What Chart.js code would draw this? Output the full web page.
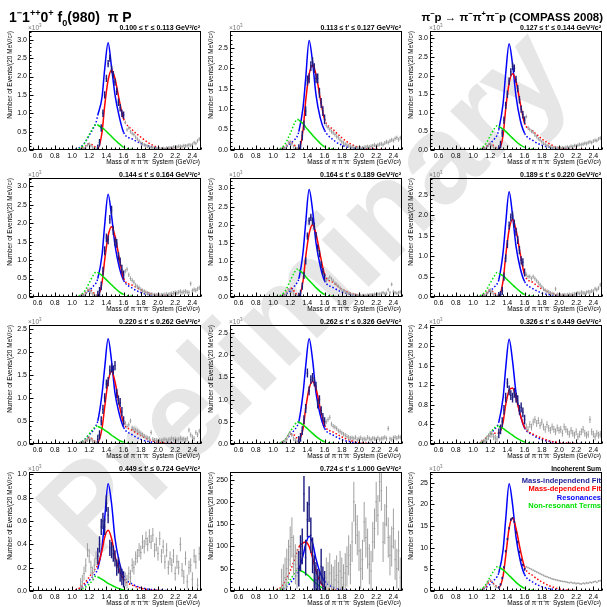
<!DOCTYPE html>
<html>
<head>
<meta charset="utf-8">
<script src="https://cdn.jsdelivr.net/npm/chart.js@4"></script>
<style>
  body { margin: 0; width: 607px; height: 607px; background: #fff; position: relative; overflow: hidden;
         font-family: "Liberation Sans", Arial, Helvetica, sans-serif; }
  .mark { position: absolute; left: 302px; top: 292px; transform: translate(-50%, -50%) rotate(-45deg);
          font-size: 126px; font-weight: bold; color: #e6e6e6; white-space: nowrap; z-index: 0; }
  canvas { position: absolute; z-index: 1; }
  .title { position: absolute; font-weight: bold; white-space: nowrap; z-index: 2; line-height: 16px; }
  .title sup, .title sub { font-size: 65%; line-height: 0; }
</style>
</head>
<body>
<div class="mark">Preliminary</div>
<div class="title" style="left:9px;top:9px;font-size:14px">1<sup>&minus;</sup>1<sup>++</sup>0<sup>+</sup> f<sub>0</sub>(980) &nbsp;&pi; P</div>
<div class="title" style="right:4px;top:9px;font-size:11.5px">&pi;<sup>&minus;</sup>p &rarr; &pi;<sup>&minus;</sup>&pi;<sup>+</sup>&pi;<sup>&minus;</sup>p (COMPASS 2008)</div>
<script>
const CURVE_MASS = [1.0, 1.1, 1.15, 1.2, 1.25, 1.28, 1.3, 1.35, 1.38, 1.42, 1.46, 1.5, 1.55, 1.6, 1.7, 1.8, 1.9, 2.0, 2.2, 2.5];
// 20 MeV bin centres of the mass-independent points
const LOW_MASS = [1.10, 1.12, 1.14, 1.16, 1.18, 1.20, 1.22, 1.24, 1.26, 1.28];
const FIT_MASS = [1.30, 1.32, 1.34, 1.36, 1.38, 1.40, 1.42, 1.44, 1.46, 1.48, 1.50, 1.52, 1.54, 1.56, 1.58, 1.60];
const HIGH_MASS = [1.62, 1.64, 1.66, 1.68, 1.70, 1.72, 1.74, 1.76, 1.78, 1.80,
  1.82, 1.84, 1.86, 1.88, 1.90, 1.92, 1.94, 1.96, 1.98, 2.00,
  2.02, 2.04, 2.06, 2.08, 2.10, 2.12, 2.14, 2.16, 2.18, 2.20,
  2.22, 2.24, 2.26, 2.28, 2.30, 2.32, 2.34, 2.36, 2.38, 2.40,
  2.42, 2.44, 2.46, 2.48];
const X_TICKS = [0.6, 0.8, 1.0, 1.2, 1.4, 1.6, 1.8, 2.0, 2.2, 2.4];

const T_LABELS = [
  "0.100 \u2264 t' \u2264 0.113 GeV\u00b2/c\u00b2", "0.113 \u2264 t' \u2264 0.127 GeV\u00b2/c\u00b2", "0.127 \u2264 t' \u2264 0.144 GeV\u00b2/c\u00b2",
  "0.144 \u2264 t' \u2264 0.164 GeV\u00b2/c\u00b2", "0.164 \u2264 t' \u2264 0.189 GeV\u00b2/c\u00b2", "0.189 \u2264 t' \u2264 0.220 GeV\u00b2/c\u00b2",
  "0.220 \u2264 t' \u2264 0.262 GeV\u00b2/c\u00b2", "0.262 \u2264 t' \u2264 0.326 GeV\u00b2/c\u00b2", "0.326 \u2264 t' \u2264 0.449 GeV\u00b2/c\u00b2",
  "0.449 \u2264 t' \u2264 0.724 GeV\u00b2/c\u00b2", "0.724 \u2264 t' \u2264 1.000 GeV\u00b2/c\u00b2", "Incoherent Sum"
];
const Y_MAX = [3.24, 2.91, 3.2, 3.22, 3.29, 2.92, 2.58, 2.68, 2.44, 1.02, 267, 27.5];
const Y_STEP = [0.5, 0.5, 0.5, 0.5, 0.5, 0.5, 0.5, 0.5, 0.2, 0.2, 50, 5];
const Y_DIGITS = [1, 1, 1, 1, 1, 1, 1, 1, 1, 1, 0, 0];
const TIMES_1E3 = [true, true, true, true, true, true, true, true, true, true, false, true];
const ERR_FIT = [0.1, 0.12, 0.1, 0.12, 0.1, 0.1, 0.1, 0.1, 0.1, 0.07, 40, 0.3];
const ERR_OUT = [0.05, 0.05, 0.05, 0.06, 0.05, 0.05, 0.05, 0.05, 0.07, 0.06, 45, 0.2];

// Resonances (blue)
const RESONANCES = [
  [0, 0.08, 0.2, 0.4, 0.6, 0.75, 0.95, 1.45, 2.2, 2.92, 2.25, 1.5, 0.9, 0.48, 0.3, 0.18, 0.1, 0.05, 0.01, 0],
  [0, 0.03, 0.08, 0.15, 0.25, 0.33, 0.45, 1.05, 1.75, 2.68, 2.15, 1.35, 0.78, 0.48, 0.25, 0.12, 0.06, 0.03, 0.01, 0],
  [0, 0.03, 0.08, 0.17, 0.3, 0.4, 0.55, 1.25, 2.05, 2.86, 2.3, 1.45, 0.8, 0.45, 0.25, 0.13, 0.07, 0.03, 0.01, 0],
  [0, 0.03, 0.08, 0.17, 0.3, 0.38, 0.5, 1.15, 1.95, 2.78, 2.2, 1.4, 0.8, 0.45, 0.24, 0.12, 0.06, 0.03, 0.01, 0],
  [0, 0.03, 0.08, 0.17, 0.3, 0.4, 0.5, 1.25, 2.05, 2.97, 2.4, 1.5, 0.85, 0.45, 0.26, 0.14, 0.07, 0.03, 0.01, 0],
  [0, 0.02, 0.07, 0.15, 0.25, 0.32, 0.42, 1.1, 1.8, 2.58, 2.0, 1.25, 0.7, 0.38, 0.2, 0.1, 0.05, 0.02, 0.01, 0],
  [0, 0.03, 0.1, 0.2, 0.3, 0.4, 0.5, 1.1, 1.65, 2.28, 1.8, 1.1, 0.65, 0.36, 0.2, 0.1, 0.05, 0.02, 0.01, 0],
  [0, 0.03, 0.1, 0.2, 0.32, 0.4, 0.5, 1.15, 1.75, 2.37, 1.9, 1.15, 0.65, 0.35, 0.2, 0.1, 0.05, 0.02, 0.01, 0],
  [0, 0.03, 0.1, 0.2, 0.3, 0.36, 0.45, 0.95, 1.55, 2.15, 1.7, 1.05, 0.6, 0.33, 0.18, 0.09, 0.05, 0.02, 0.01, 0],
  [0, 0.02, 0.05, 0.09, 0.13, 0.16, 0.19, 0.38, 0.62, 0.92, 0.75, 0.45, 0.25, 0.13, 0.06, 0.03, 0.015, 0.01, 0, 0],
  [0, 3, 8, 18, 30, 40, 48, 80, 105, 123, 108, 72, 40, 22, 8, 3, 1, 0, 0, 0],
  [0, 0.3, 0.8, 1.6, 2.6, 3.3, 4.2, 9.5, 16.5, 24.8, 20, 12.5, 7, 3.8, 2, 1, 0.5, 0.2, 0.05, 0]
];
// Mass-dependent fit (red)
const MASS_DEP_FIT = [
  [0, 0.03, 0.1, 0.17, 0.12, 0.06, 0.05, 0.5, 1.2, 1.9, 2.18, 1.95, 1.35, 0.85, 0.55, 0.35, 0.18, 0.07, 0.02, 0],
  [0, 0.03, 0.1, 0.19, 0.12, 0.04, 0.02, 0.5, 1.2, 1.85, 2.08, 1.85, 1.25, 0.75, 0.5, 0.3, 0.15, 0.06, 0.02, 0],
  [0, 0.03, 0.09, 0.16, 0.1, 0.04, 0.03, 0.4, 1.1, 1.8, 2.05, 1.85, 1.25, 0.72, 0.5, 0.3, 0.15, 0.06, 0.02, 0],
  [0, 0.03, 0.1, 0.2, 0.12, 0.05, 0.05, 0.4, 1.0, 1.65, 1.9, 1.65, 1.05, 0.5, 0.32, 0.2, 0.1, 0.05, 0.01, 0],
  [0, 0.04, 0.12, 0.25, 0.15, 0.05, 0.03, 0.45, 1.1, 1.75, 2.0, 1.75, 1.15, 0.62, 0.4, 0.22, 0.11, 0.05, 0.01, 0],
  [0, 0.03, 0.09, 0.17, 0.1, 0.04, 0.03, 0.4, 1.0, 1.65, 1.9, 1.65, 1.05, 0.55, 0.35, 0.2, 0.1, 0.05, 0.01, 0],
  [0, 0.02, 0.07, 0.14, 0.09, 0.04, 0.04, 0.35, 0.8, 1.35, 1.58, 1.35, 0.85, 0.46, 0.3, 0.18, 0.09, 0.04, 0.01, 0],
  [0, 0.03, 0.1, 0.22, 0.2, 0.13, 0.1, 0.35, 0.8, 1.25, 1.41, 1.25, 0.8, 0.42, 0.27, 0.16, 0.08, 0.03, 0.01, 0],
  [0, 0.04, 0.12, 0.2, 0.22, 0.22, 0.22, 0.45, 0.8, 1.1, 1.15, 0.95, 0.6, 0.34, 0.2, 0.12, 0.06, 0.03, 0.01, 0],
  [0, 0.03, 0.07, 0.12, 0.17, 0.2, 0.22, 0.35, 0.46, 0.52, 0.45, 0.3, 0.18, 0.1, 0.05, 0.025, 0.01, 0.005, 0, 0],
  [0, 10, 25, 45, 70, 88, 98, 108, 110, 100, 75, 45, 20, 8, 3, 1, 0, 0, 0, 0],
  [0, 0.3, 1.0, 2.3, 1.5, 0.9, 0.8, 3.5, 8, 14.5, 16.9, 14.5, 9.5, 5.5, 3.5, 2.1, 1.1, 0.5, 0.1, 0]
];
// Non-resonant terms (green)
const NON_RESONANT = [
  [0, 0.06, 0.2, 0.42, 0.62, 0.7, 0.68, 0.6, 0.55, 0.46, 0.37, 0.27, 0.17, 0.07, 0.02, 0, 0, 0, 0, 0],
  [0, 0.05, 0.18, 0.4, 0.65, 0.75, 0.73, 0.64, 0.56, 0.46, 0.36, 0.27, 0.16, 0.08, 0.02, 0, 0, 0, 0, 0],
  [0, 0.05, 0.17, 0.38, 0.58, 0.65, 0.63, 0.56, 0.5, 0.41, 0.32, 0.23, 0.14, 0.07, 0.02, 0, 0, 0, 0, 0],
  [0, 0.05, 0.17, 0.38, 0.6, 0.68, 0.66, 0.58, 0.51, 0.42, 0.33, 0.24, 0.14, 0.07, 0.02, 0, 0, 0, 0, 0],
  [0, 0.06, 0.2, 0.45, 0.68, 0.77, 0.75, 0.65, 0.56, 0.46, 0.36, 0.26, 0.15, 0.07, 0.02, 0, 0, 0, 0, 0],
  [0, 0.05, 0.15, 0.34, 0.52, 0.6, 0.58, 0.52, 0.46, 0.38, 0.3, 0.22, 0.13, 0.06, 0.02, 0, 0, 0, 0, 0],
  [0, 0.03, 0.1, 0.22, 0.33, 0.39, 0.38, 0.34, 0.3, 0.25, 0.19, 0.14, 0.08, 0.04, 0.01, 0, 0, 0, 0, 0],
  [0, 0.04, 0.12, 0.28, 0.42, 0.5, 0.49, 0.43, 0.38, 0.31, 0.24, 0.17, 0.1, 0.05, 0.01, 0, 0, 0, 0, 0],
  [0, 0.03, 0.1, 0.22, 0.33, 0.37, 0.36, 0.32, 0.28, 0.23, 0.18, 0.13, 0.08, 0.04, 0.01, 0, 0, 0, 0, 0],
  [0, 0.01, 0.03, 0.06, 0.1, 0.13, 0.12, 0.1, 0.085, 0.065, 0.05, 0.035, 0.02, 0.01, 0.005, 0, 0, 0, 0, 0],
  [0, 5, 12, 25, 40, 48, 47, 43, 39, 33, 25, 17, 10, 4, 1, 0, 0, 0, 0, 0],
  [0, 0.5, 1.5, 3.3, 4.9, 5.6, 5.5, 4.9, 4.4, 3.6, 2.8, 2.0, 1.2, 0.6, 0.2, 0, 0, 0, 0, 0]
];
// Mass-independent fit, points below the fit range (grey)
const LOW_POINTS = [
  [0.01, 0.02, 0.04, 0.08, 0.14, 0.16, 0.12, 0.06, 0.03, 0.02],
  [0.01, 0.02, 0.04, 0.1, 0.18, 0.2, 0.15, 0.08, 0.04, 0.02],
  [0.01, 0.02, 0.04, 0.08, 0.14, 0.18, 0.12, 0.06, 0.03, 0.02],
  [0.01, 0.02, 0.05, 0.1, 0.18, 0.2, 0.14, 0.07, 0.04, 0.02],
  [0.01, 0.03, 0.06, 0.12, 0.2, 0.22, 0.16, 0.08, 0.04, 0.02],
  [0.01, 0.02, 0.04, 0.08, 0.14, 0.17, 0.12, 0.06, 0.03, 0.02],
  [0.01, 0.02, 0.03, 0.06, 0.1, 0.12, 0.1, 0.06, 0.03, 0.02],
  [0.02, 0.03, 0.06, 0.12, 0.2, 0.25, 0.2, 0.12, 0.08, 0.05],
  [0.02, 0.03, 0.06, 0.1, 0.15, 0.2, 0.2, 0.15, 0.12, 0.1],
  [0.05, 0.08, 0.15, 0.22, 0.35, 0.3, 0.2, 0.15, 0.22, 0.28],
  [5, 15, 30, 50, 70, 100, 120, 80, 60, 50],
  [0.2, 0.4, 0.9, 1.6, 2.3, 2.6, 2.2, 1.5, 1.0, 0.8]
];
// Mass-independent fit, points inside the fit range (dark blue)
const FIT_POINTS = [
  [0.05, 0.2, 0.6, 1.0, 1.5, 1.95, 2.35, 2.5, 2.2, 2.05, 1.85, 1.6, 1.3, 1.15, 1.0, 0.95],
  [0.02, 0.1, 0.35, 0.6, 0.95, 1.7, 1.75, 2.05, 2.15, 2.0, 1.75, 1.75, 1.4, 1.15, 0.95, 0.75],
  [0.03, 0.15, 0.45, 0.8, 1.2, 1.5, 1.85, 2.1, 2.25, 2.2, 1.9, 1.65, 1.35, 1.1, 0.95, 0.8],
  [0.05, 0.15, 0.3, 0.7, 1.25, 1.6, 1.55, 2.1, 2.35, 1.8, 1.5, 1.45, 1.1, 0.95, 0.75, 0.6],
  [0.02, 0.1, 0.3, 0.6, 1.0, 1.68, 2.1, 2.2, 2.1, 1.95, 1.7, 1.35, 1.2, 0.9, 0.7, 0.55],
  [0.02, 0.05, 0.15, 0.5, 0.95, 1.3, 1.75, 1.95, 2.0, 1.8, 1.6, 1.4, 1.15, 0.9, 0.85, 0.6],
  [0.1, 0.2, 0.5, 0.75, 1.0, 1.3, 1.35, 1.6, 1.65, 1.6, 1.7, 1.1, 0.95, 0.9, 0.7, 0.5],
  [0.08, 0.15, 0.3, 0.55, 0.8, 1.6, 1.2, 1.45, 1.5, 1.4, 1.3, 0.9, 1.0, 0.75, 0.6, 0.5],
  [0.22, 0.3, 0.45, 0.7, 0.95, 1.25, 1.1, 1.0, 0.95, 1.05, 0.95, 0.9, 0.7, 0.75, 0.65, 0.5],
  [0.3, 0.4, 0.55, 0.6, 0.55, 0.75, 0.65, 0.37, 0.35, 0.32, 0.28, 0.2, 0.22, 0.15, 0.12, 0.1],
  [50, 85, 100, 218, 75, 160, 195, 125, 80, 40, 25, 10, 5, 55, 15, 5],
  [0.8, 1.5, 3, 5.5, 9.2, 12, 14.5, 16.5, 16.8, 16, 13.5, 11.3, 9, 7.2, 6, 5]
];
// Mass-independent fit, points above the fit range (grey)
const HIGH_POINTS = [
  [0.75, 0.55, 0.6, 0.5, 0.45, 0.42, 0.35, 0.3, 0.25, 0.2, 0.17, 0.14, 0.12, 0.1, 0.08, 0.07, 0.06, 0.05, 0.04, 0.04,
   0.03, 0.03, 0.04, 0.03, 0.05, 0.05, 0.06, 0.06, 0.08, 0.07, 0.08, 0.1, 0.1, 0.09, 0.12, 0.11, 0.12, 0.14, 0.13, 0.15,
   0.2, 0.18, 0.25, 0.3],
  [0.6, 0.55, 0.5, 0.45, 0.42, 0.38, 0.33, 0.3, 0.25, 0.2, 0.17, 0.14, 0.12, 0.1, 0.08, 0.07, 0.06, 0.05, 0.05, 0.04,
   0.05, 0.05, 0.06, 0.07, 0.08, 0.07, 0.09, 0.1, 0.12, 0.1, 0.12, 0.14, 0.15, 0.13, 0.17, 0.2, 0.18, 0.22, 0.25, 0.23,
   0.28, 0.3, 0.25, 0.3],
  [0.9, 0.6, 0.55, 0.5, 0.48, 0.4, 0.36, 0.3, 0.27, 0.22, 0.18, 0.15, 0.12, 0.1, 0.08, 0.07, 0.06, 0.05, 0.05, 0.04,
   0.05, 0.06, 0.05, 0.07, 0.08, 0.07, 0.1, 0.09, 0.12, 0.11, 0.13, 0.15, 0.14, 0.16, 0.18, 0.17, 0.2, 0.22, 0.2, 0.24,
   0.26, 0.25, 0.3, 0.32],
  [0.7, 0.75, 0.6, 0.5, 0.45, 0.4, 0.32, 0.28, 0.25, 0.2, 0.17, 0.15, 0.12, 0.1, 0.08, 0.07, 0.06, 0.05, 0.05, 0.04,
   0.04, 0.05, 0.05, 0.06, 0.07, 0.06, 0.08, 0.09, 0.1, 0.12, 0.11, 0.13, 0.15, 0.12, 0.14, 0.15, 0.13, 0.12, 0.36, 0.17,
   0.2, 0.18, 0.22, 0.25],
  [0.45, 0.5, 0.55, 0.5, 0.45, 0.38, 0.35, 0.3, 0.25, 0.2, 0.17, 0.14, 0.12, 0.1, 0.08, 0.07, 0.06, 0.05, 0.04, 0.04,
   0.04, 0.03, 0.04, 0.04, 0.05, 0.05, 0.06, 0.06, 0.07, 0.07, 0.08, 0.08, 0.1, 0.12, 0.09, 0.1, 0.2, 0.12, 0.35, 0.15,
   0.12, 0.1, 0.12, 0.14],
  [0.55, 0.5, 0.5, 0.45, 0.5, 0.45, 0.4, 0.35, 0.3, 0.25, 0.2, 0.16, 0.14, 0.12, 0.1, 0.08, 0.07, 0.2, 0.06, 0.05,
   0.04, 0.04, 0.05, 0.04, 0.05, 0.06, 0.05, 0.06, 0.07, 0.08, 0.1, 0.08, 0.12, 0.1, 0.09, 0.11, 0.13, 0.12, 0.15, 0.14,
   0.2, 0.18, 0.22, 0.3],
  [0.45, 0.38, 0.42, 0.5, 0.35, 0.32, 0.3, 0.28, 0.25, 0.22, 0.2, 0.17, 0.15, 0.13, 0.12, 0.25, 0.1, 0.08, 0.08, 0.07,
   0.08, 0.07, 0.09, 0.1, 0.08, 0.09, 0.1, 0.12, 0.1, 0.11, 0.09, 0.1, 0.12, 0.1, 0.11, 0.09, 0.12, 0.3, 0.2, 0.15,
   0.12, 0.25, 0.2, 0.28],
  [0.5, 0.55, 0.6, 0.45, 0.4, 0.38, 0.35, 0.3, 0.28, 0.25, 0.22, 0.2, 0.17, 0.15, 0.13, 0.14, 0.12, 0.15, 0.1, 0.12,
   0.14, 0.1, 0.12, 0.1, 0.15, 0.12, 0.1, 0.13, 0.12, 0.11, 0.14, 0.1, 0.12, 0.13, 0.15, 0.12, 0.35, 0.12, 0.1, 0.14,
   0.15, 0.13, 0.16, 0.15],
  [0.35, 0.3, 0.4, 0.35, 0.45, 0.5, 0.42, 0.48, 0.38, 0.45, 0.35, 0.3, 0.4, 0.32, 0.28, 0.35, 0.3, 0.25, 0.33, 0.28,
   0.3, 0.22, 0.35, 0.3, 0.25, 0.2, 0.28, 0.22, 0.18, 0.25, 0.15, 0.2, 0.25, 0.3, 0.22, 0.18, 0.2, 0.5, 0.25, 0.2,
   0.15, 0.22, 0.18, 0.2],
  [0.1, 0.08, 0.15, 0.12, 0.22, 0.2, 0.28, 0.3, 0.35, 0.33, 0.42, 0.38, 0.45, 0.4, 0.47, 0.42, 0.48, 0.35, 0.4, 0.32,
   0.45, 0.3, 0.38, 0.25, 0.35, 0.2, 0.28, 0.22, 0.3, 0.15, 0.25, 0.2, 0.4, 0.18, 0.12, 0.28, 0.08, 0.2, 0.22, 0.1,
   0.3, 0.25, 0.05, 0.32],
  [30, 20, 40, 15, 10, 25, 35, 20, 45, 30, 15, 40, 55, 80, 60, 110, 200, 150, 125, 90,
   50, 70, 155, 120, 95, 60, 45, 110, 140, 200, 170, 245, 225, 110, 150, 190, 120, 80, 100, 140,
   70, 50, 90, 30],
  [5.6, 5.4, 5.2, 5.0, 4.8, 4.6, 4.4, 4.2, 4.0, 3.8, 3.6, 3.4, 3.3, 3.1, 3.0, 2.8, 2.7, 2.6, 2.5, 2.4,
   2.3, 2.2, 2.2, 2.1, 2.0, 1.9, 2.0, 1.8, 1.9, 1.7, 1.8, 1.7, 1.6, 1.8, 1.7, 1.9, 1.8, 2.0, 1.9, 2.1,
   2.2, 2.0, 2.3, 2.4]
];

const LEGEND = [
  ["Mass-independend Fit", "#1c1c96"],
  ["Mass-dependend Fit", "#ff0000"],
  ["Resonances", "#0000ff"],
  ["Non-resonant Terms", "#00e000"]
];

const COL_LEFT = [0, 201, 401];
const ROW_TOP = [17, 164, 311, 458];
const FONT = '"Liberation Sans", Arial, Helvetica, sans-serif';

Chart.defaults.font.family = FONT;
Chart.defaults.color = "#000";

// solid inside the fit range 1.3-1.6, dotted outside
const fitDash = ctx => (ctx.p0.parsed.x >= 1.3 - 1e-9 && ctx.p1.parsed.x <= 1.6 + 1e-9) ? undefined : [1.5, 2];

const panelDeco = {
  id: "panelDeco",
  afterDatasetsDraw(chart) {
    const { ctx, chartArea: a, scales: { x, y } } = chart;
    ctx.save();
    ctx.beginPath();
    ctx.rect(a.left, a.top, a.width, a.height);
    ctx.clip();
    chart.data.datasets.forEach(ds => {
      if (ds.err === undefined) return;
      ctx.strokeStyle = ds.barColor;
      ctx.lineWidth = ds.barWidth;
      ds.data.forEach(p => {
        const px = x.getPixelForValue(p.x);
        const py = y.getPixelForValue(p.y);
        ctx.beginPath();
        ctx.moveTo(px, y.getPixelForValue(p.y - ds.err));
        ctx.lineTo(px, y.getPixelForValue(p.y + ds.err));
        ctx.moveTo(x.getPixelForValue(p.x - 0.01), py);
        ctx.lineTo(x.getPixelForValue(p.x + 0.01), py);
        ctx.stroke();
      });
    });
    ctx.restore();
  },
  afterDraw(chart, args, opts) {
    const { ctx, chartArea: a, scales: { x, y } } = chart;
    const i = opts.index;
    ctx.save();
    ctx.strokeStyle = "#000";
    ctx.lineWidth = 1;
    const L = Math.round(a.left) + 0.5, R = Math.round(a.right) - 0.5;
    const T = Math.round(a.top) + 0.5, B = Math.round(a.bottom) - 0.5;
    ctx.strokeRect(L, T, R - L, B - T);

    // ticks drawn inside the frame, ROOT style
    ctx.beginPath();
    const xs = x.ticks.map(t => t.value);
    const dx = xs[1] - xs[0];
    for (let v = xs[0] - dx; v <= xs[xs.length - 1] + dx + 1e-9; v += dx / 4) {
      if (v < x.min - 1e-9 || v > x.max + 1e-9) continue;
      const major = Math.abs(((v - xs[0]) / dx) - Math.round((v - xs[0]) / dx)) < 1e-6;
      const px = Math.round(x.getPixelForValue(v)) + 0.5;
      ctx.moveTo(px, B);
      ctx.lineTo(px, B - (major ? 4 : 2));
    }
    const ys = y.ticks.map(t => t.value);
    const dy = ys[1] - ys[0];
    for (let v = 0; v <= y.max + 1e-9; v += dy / 5) {
      const major = Math.abs((v / dy) - Math.round(v / dy)) < 1e-6;
      const py = Math.round(y.getPixelForValue(v)) + 0.5;
      ctx.moveTo(L, py);
      ctx.lineTo(L + (major ? 4 : 2), py);
    }
    ctx.stroke();

    // panel label above the frame
    ctx.fillStyle = "#000";
    ctx.textBaseline = "alphabetic";
    ctx.textAlign = "right";
    ctx.font = "bold " + (i === 11 ? 6.6 : 7) + "px " + FONT;
    ctx.fillText(T_LABELS[i], a.right - 1, a.top - 1.5);

    if (TIMES_1E3[i]) {
      ctx.fillStyle = "#777";
      ctx.textAlign = "left";
      ctx.font = "6.5px " + FONT;
      ctx.fillText("\u00d710", a.left - 1, a.top - 1.5);
      const w = ctx.measureText("\u00d710").width;
      ctx.font = "4.5px " + FONT;
      ctx.fillText("3", a.left - 1 + w, a.top - 4.5);
    }

    // axis titles
    ctx.fillStyle = "#000";
    ctx.font = "6.5px " + FONT;
    ctx.textAlign = "right";
    ctx.fillText("Mass of \u03c0\u207b\u03c0\u207a\u03c0\u207b System (GeV/c\u00b2)", a.right - 1, chart.height - 2);
    ctx.translate(10, a.top);
    ctx.rotate(-Math.PI / 2);
    ctx.textBaseline = "middle";
    ctx.fillText("Number of Events/(20 MeV/c\u00b2)", 0, 0);
    ctx.setTransform(1, 0, 0, 1, 0, 0);

    if (i === 11) {
      ctx.font = "bold 7.5px " + FONT;
      ctx.textAlign = "right";
      ctx.textBaseline = "middle";
      LEGEND.forEach(([txt, col], k) => {
        ctx.fillStyle = col;
        ctx.fillText(txt, a.right - 1, a.top + 8.5 + k * 8.6);
      });
    }
    ctx.restore();
  }
};

function curve(vals, color) {
  return {
    data: CURVE_MASS.map((m, k) => ({ x: m, y: vals[k] })),
    borderColor: color,
    borderWidth: 1.5,
    pointRadius: 0,
    cubicInterpolationMode: "monotone",
    segment: { borderDash: fitDash }
  };
}

function points(mass, vals, err, color, width) {
  return {
    data: mass.map((m, k) => ({ x: m, y: vals[k] })),
    showLine: false,
    pointRadius: 0,
    err: err,
    barColor: color,
    barWidth: width
  };
}

for (let i = 0; i < 12; i++) {
  const cv = document.createElement("canvas");
  cv.width = 203;
  cv.height = 149;
  cv.style.left = COL_LEFT[i % 3] + "px";
  cv.style.top = ROW_TOP[Math.floor(i / 3)] + "px";
  document.body.appendChild(cv);

  new Chart(cv, {
    type: "line",
    data: {
      datasets: [
        points(LOW_MASS, LOW_POINTS[i], ERR_OUT[i], "#a0a0a0", 1),
        points(HIGH_MASS, HIGH_POINTS[i], ERR_OUT[i], "#a0a0a0", 1),
        curve(NON_RESONANT[i], "#00e000"),
        curve(MASS_DEP_FIT[i], "#ff0000"),
        curve(RESONANCES[i], "#0000ff"),
        points(FIT_MASS, FIT_POINTS[i], ERR_FIT[i], "#1c1c80", 1.4)
      ]
    },
    options: {
      responsive: false,
      animation: false,
      devicePixelRatio: 1,
      layout: { padding: { left: 0, top: 14, right: 2, bottom: 1 } },
      plugins: {
        legend: { display: false },
        tooltip: { enabled: false },
        panelDeco: { index: i }
      },
      scales: {
        x: {
          type: "linear",
          min: 0.5,
          max: 2.5,
          afterBuildTicks: s => { s.ticks = X_TICKS.map(v => ({ value: v })); },
          afterFit: s => { s.height = 15; s.paddingLeft = 0; s.paddingRight = 0; },
          grid: { display: false, drawTicks: false },
          border: { display: false },
          ticks: { padding: 2, maxRotation: 0, autoSkip: false, font: { size: 7 }, callback: v => v.toFixed(1) }
        },
        y: {
          min: 0,
          max: Y_MAX[i],
          afterFit: s => { s.width = 29; s.paddingTop = 0; s.paddingBottom = 0; },
          grid: { display: false, drawTicks: false },
          border: { display: false },
          ticks: { stepSize: Y_STEP[i], includeBounds: false, padding: 2, font: { size: 7 },
                   callback: v => v.toFixed(Y_DIGITS[i]) }
        }
      }
    },
    plugins: [panelDeco]
  });
}
</script>
</body>
</html>
